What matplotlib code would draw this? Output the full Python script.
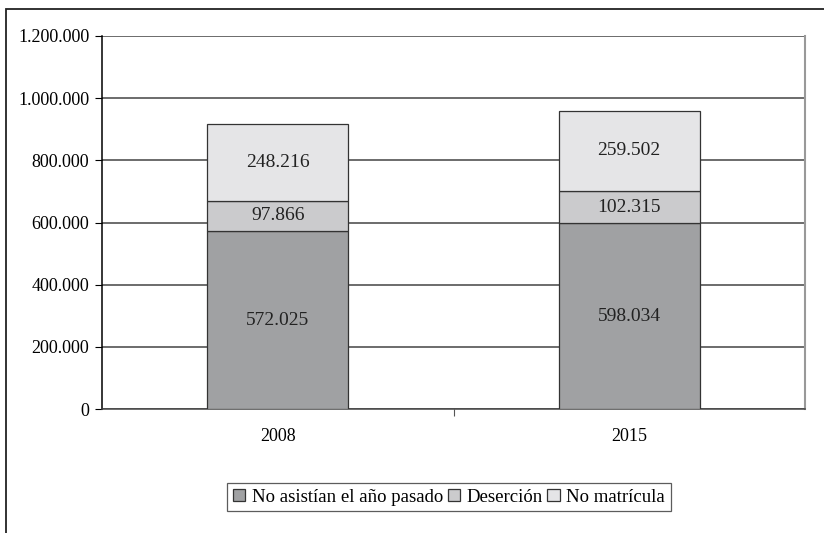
import matplotlib.pyplot as plt
from matplotlib.patches import Rectangle
from matplotlib.ticker import FuncFormatter

anios = ["2008", "2015"]
no_asistian = [572025, 598034]
desercion = [97866, 102315]
no_matricula = [248216, 259502]

series = [
    ("No asistían el año pasado", no_asistian, "#a0a1a3"),
    ("Deserción", desercion, "#cbcbcd"),
    ("No matrícula", no_matricula, "#e5e5e7"),
]

plt.rcParams["font.family"] = ["Liberation Serif", "DejaVu Serif"]

fig = plt.figure(figsize=(8.24, 5.33), dpi=100)
ax = fig.add_axes([102 / 824, 1 - 409 / 533, 703 / 824, 373 / 533])

# marco exterior del gráfico
fig.patches.append(Rectangle((6 / 824, -0.2), 1.2, 0.2 + (533 - 9) / 533,
                             transform=fig.transFigure, fill=False,
                             edgecolor="#222222", linewidth=1.3))

x = range(len(anios))
base = [0, 0]
handles = []
for nombre, valores, color in series:
    barras = ax.bar(x, valores, width=0.40, bottom=base, color=color,
                    edgecolor="#333333", linewidth=0.9, label=nombre, zorder=3)
    handles.append(barras)
    for xi, v, b in zip(x, valores, base):
        ax.text(xi, b + v / 2, f"{v:,}".replace(",", "."), ha="center",
                va="center", fontsize=14, color="#222222", zorder=4)
    base = [b + v for b, v in zip(base, valores)]

ax.set_xlim(-0.5, 1.5)
ax.set_ylim(0, 1200000)
ax.set_yticks(range(0, 1200001, 200000))
ax.yaxis.set_major_formatter(FuncFormatter(lambda v, p: f"{int(v):,}".replace(",", ".")))
ax.set_xticks([0, 1])
ax.set_xticklabels(anios)
ax.set_xticks([0.5], minor=True)
ax.tick_params(axis="x", which="major", length=0, pad=14, labelsize=13)
ax.tick_params(axis="x", which="minor", length=5, width=0.8, color="#555555")
ax.tick_params(axis="y", length=5, width=0.8, pad=4, labelsize=13)

ax.grid(axis="y", color="#444444", linewidth=1.1, zorder=0)
ax.spines["top"].set_visible(False)
ax.spines["right"].set_color("#999999")
ax.spines["right"].set_linewidth(1.5)
ax.spines["left"].set_linewidth(1.1)
ax.spines["bottom"].set_color("#444444")
ax.spines["bottom"].set_linewidth(1.1)

fig.legend(handles=handles, loc="center", bbox_to_anchor=(449 / 824, 1 - 497 / 533),
           ncol=3, frameon=True, fancybox=False, edgecolor="#333333",
           fontsize=13.5, handlelength=0.65, handleheight=0.65, handletextpad=0.35,
           columnspacing=0.25, borderpad=0.3, borderaxespad=0)
fig.legends[0].get_frame().set_linewidth(0.9)

fig.savefig("out.png", dpi=100)
